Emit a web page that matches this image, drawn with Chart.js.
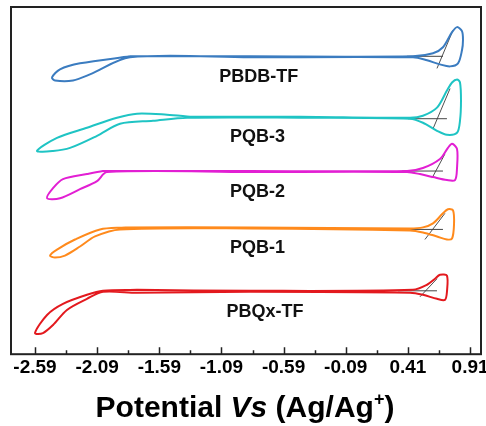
<!DOCTYPE html>
<html>
<head>
<meta charset="utf-8">
<script src="https://cdn.jsdelivr.net/npm/chart.js@4.4.0/dist/chart.umd.min.js"></script>
<style>
  html, body { margin: 0; padding: 0; background: #fff; }
  #wrap { position: relative; width: 486px; height: 426px; }
  #titulo {
    position: absolute; left: 0; width: 490px; top: 392px;
    text-align: center; white-space: nowrap; color: #000;
    font: bold 30px "Liberation Sans", Arial, sans-serif; line-height: 30px;
  }
  #titulo sup { font-size: 18px; line-height: 0; vertical-align: 12px; }
</style>
</head>
<body>
<div id="wrap">
  <canvas id="graficaCV" width="486" height="426" style="width:486px;height:426px"></canvas>
  <div id="titulo">Potential <i>Vs</i> (Ag/Ag<sup>+</sup>)</div>
</div>
<script>
// ticks del eje de potencial (V vs Ag/Ag+)
const ticksPotencial = [-2.59, -2.09, -1.59, -1.09, -0.59, -0.09, 0.41, 0.91];

// curvas CV (potencial, corriente en unidades arbitrarias con desplazamiento)
const pbdbV = [-1.826, -0.860, 0.451, 0.612, 0.692, 0.765, 0.805, 0.845, 0.853, 0.845, 0.813, 0.749, 0.668, 0.564, 0.451, -0.860, -1.826, -2.148, -2.284, -2.429, -2.453, -2.389, -2.228, -1.826];
const pbdbI = [296, 296, 296, 299, 305, 320, 325, 321, 312, 302, 289, 286, 288, 292, 295, 295, 295, 278, 272, 272, 275, 283, 289, 296];

const pqb3V = [-1.343, -0.458, 0.427, 0.531, 0.644, 0.724, 0.765, 0.805, 0.829, 0.837, 0.829, 0.805, 0.724, 0.644, 0.531, 0.427, -0.458, -1.367, -1.641, -1.906, -2.091, -2.308, -2.445, -2.574, -2.413, -2.172, -1.930, -1.769, -1.528, -1.343];
const pqb3I = [236, 236, 235, 237, 245, 262, 270, 273, 270, 252, 232, 220, 218, 222, 230, 234, 235, 235, 232, 229, 217, 205, 202, 202, 215, 225, 235, 239, 238, 236];

const pqb2V = [-2.011, -0.860, 0.403, 0.531, 0.668, 0.732, 0.765, 0.805, 0.805, 0.789, 0.724, 0.612, 0.507, 0.403, -0.860, -2.011, -2.091, -2.228, -2.389, -2.493, -2.445, -2.365, -2.172, -2.043, -2.011];
const pqb2I = [182, 182, 182, 185, 194, 205, 209, 204, 185, 173, 173, 176, 179, 181, 181, 181, 172, 164, 155, 155, 165, 174, 179, 182, 182];

const pqb1V = [-1.866, -0.860, 0.427, 0.531, 0.612, 0.692, 0.732, 0.773, 0.781, 0.765, 0.724, 0.644, 0.531, 0.427, -0.860, -1.906, -2.107, -2.228, -2.349, -2.429, -2.469, -2.413, -2.268, -2.067, -1.866];
const pqb1I = [126, 126, 125, 126, 130, 140, 144, 143, 129, 115, 114, 117, 121, 123, 125, 124, 117, 107, 98, 96, 98, 104, 114, 124, 126];

const pbqxV = [-1.769, -0.860, 0.451, 0.564, 0.628, 0.668, 0.724, 0.724, 0.708, 0.644, 0.531, 0.427, -0.860, -1.769, -2.043, -2.172, -2.333, -2.445, -2.526, -2.590, -2.493, -2.365, -2.172, -2.043, -1.769];
const pbqxI = [64, 63, 64, 69, 75, 79, 78, 62, 54, 55, 59, 61, 62, 61, 62, 55, 44, 29, 21, 21, 39, 50, 59, 63, 64];

// tangentes para el onset de oxidacion (horizontal y pendiente)
const tanHorizV = [[0.403, 0.692], [0.411, 0.724], [0.363, 0.692], [0.363, 0.692], [0.330, 0.644]];
const tanHorizI = [296, 234, 182, 124, 63];
const tanPendV = [[0.644, 0.773], [0.612, 0.749], [0.604, 0.708], [0.547, 0.708], [0.507, 0.644]];
const tanPendI = [[284, 322], [224, 264], [175, 199], [114, 140], [57, 75]];

const nombres = ['PBDB-TF', 'PQB-3', 'PQB-2', 'PQB-1', 'PBQx-TF'];
const colores = ['#3b7cc0', '#1fc4c4', '#e21fd3', '#ff8a1c', '#e3191e'];
const etiquetaV = [-0.79, -0.80, -0.80, -0.80, -0.74];
const etiquetaI = [275, 216, 161, 105, 42];

const curvas = [[pbdbV, pbdbI], [pqb3V, pqb3I], [pqb2V, pqb2I], [pqb1V, pqb1I], [pbqxV, pbqxI]];

const datasets = [];
curvas.forEach((c, i) => {
    datasets.push({
        label: nombres[i],
        data: c[0].map((v, k) => ({ x: v, y: c[1][k] })),
        borderColor: colores[i],
        borderWidth: 2,
        tension: 0.3,
        pointRadius: 0,
        fill: false
    });
});
tanHorizV.forEach((par, i) => {
    datasets.push({
        data: [{ x: par[0], y: tanHorizI[i] }, { x: par[1], y: tanHorizI[i] }],
        borderColor: '#444', borderWidth: 1, pointRadius: 0, tension: 0
    });
    datasets.push({
        data: [{ x: tanPendV[i][0], y: tanPendI[i][0] }, { x: tanPendV[i][1], y: tanPendI[i][1] }],
        borderColor: '#222', borderWidth: 0.8, pointRadius: 0, tension: 0
    });
});

const marco = {
    id: 'marco',
    afterDraw(chart) {
        const ctx = chart.ctx;
        const a = chart.chartArea;
        const x = chart.scales.x;
        const y = chart.scales.y;
        ctx.save();
        // nombres de los polimeros
        ctx.fillStyle = '#111';
        ctx.font = 'bold 18px "Liberation Sans", Arial, sans-serif';
        ctx.textAlign = 'center';
        ctx.textBaseline = 'middle';
        nombres.forEach((n, i) => {
            ctx.fillText(n, x.getPixelForValue(etiquetaV[i]), y.getPixelForValue(etiquetaI[i]));
        });
        // marcas hacia dentro
        ctx.strokeStyle = '#222';
        ctx.lineWidth = 1.5;
        ctx.beginPath();
        ticksPotencial.forEach(t => {
            const px = Math.round(x.getPixelForValue(t)) + 0.5;
            ctx.moveTo(px, a.bottom); ctx.lineTo(px, a.bottom - 7);
            const pm = Math.round(x.getPixelForValue(t + 0.25)) + 0.5;
            if (t + 0.25 < x.max) { ctx.moveTo(pm, a.bottom); ctx.lineTo(pm, a.bottom - 4); }
        });
        ctx.stroke();
        // marco
        ctx.lineWidth = 2;
        ctx.strokeRect(a.left, a.top, a.right - a.left, a.bottom - a.top);
        ctx.restore();
    }
};

new Chart(document.getElementById('graficaCV').getContext('2d'), {
    type: 'line',
    data: { datasets: datasets },
    options: {
        responsive: false,
        animation: false,
        layout: { padding: { top: 7, left: 11, right: 5, bottom: 45 } },
        plugins: { legend: { display: false }, tooltip: { enabled: false } },
        scales: {
            x: {
                type: 'linear',
                min: -2.783,
                max: 0.998,
                afterBuildTicks: s => { s.ticks = ticksPotencial.map(v => ({ value: v })); },
                afterFit: s => { s.paddingLeft = 0; s.paddingRight = 0; },
                grid: { display: false, drawTicks: false },
                border: { display: false },
                ticks: {
                    padding: 2,
                    color: '#000',
                    font: { family: '"Liberation Sans", Arial, sans-serif', size: 19, weight: 'bold' },
                    callback: v => v.toFixed(2)
                }
            },
            y: { display: false, min: 0, max: 345 }
        }
    },
    plugins: [marco]
});
</script>
</body>
</html>
